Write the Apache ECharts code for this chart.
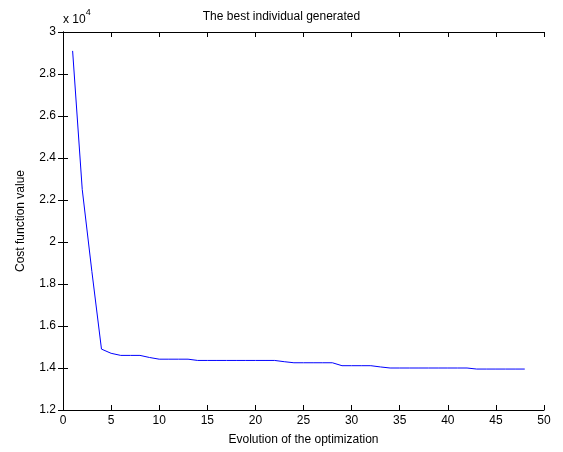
<!DOCTYPE html>
<html>
<head>
<meta charset="utf-8">
<script src="https://cdn.jsdelivr.net/npm/echarts@6/dist/echarts.min.js"></script>
<style>html,body{margin:0;padding:0;background:#fff;}#c{width:563px;height:452px;}</style>
</head>
<body>
<div id="c"></div>
<script>
// Generation index (x) and best cost value (y, raw units)
const generations = [1,2,3,4,5,6,7,8,9,10,11,12,13,14,15,16,17,18,19,20,21,22,23,24,25,26,27,28,29,30,31,32,33,34,35,36,37,38,39,40,41,42,43,44,45,46,47,48];
const bestCost = [29100,22500,18600,14900,14700,14600,14600,14600,14500,14420,14420,14420,14420,14360,14360,14360,14360,14360,14360,14360,14360,14360,14300,14250,14250,14250,14250,14250,14110,14110,14110,14110,14050,14000,14000,14000,14000,14000,14000,14000,14000,14000,13950,13950,13950,13950,13950,13950];
const xTicks = {min: 0, max: 50, interval: 5};
const yTicks = {min: 12000, max: 30000, interval: 2000};
const titleText = 'The best individual generated';
const xName = 'Evolution of the optimization';
const yName = 'Cost function value';

const font = 'Liberation Sans, Arial, sans-serif';
const chart = echarts.init(document.getElementById('c'), null, {renderer: 'canvas'});
const axisBase = {
  axisLine: {show: true, lineStyle: {color: '#000', width: 1}},
  axisTick: {show: true, inside: true, length: 5, lineStyle: {color: '#000'}},
  splitLine: {show: false}
};
chart.setOption({
  animation: false,
  backgroundColor: '#fff',
  title: {text: titleText, left: 'center', top: 6, textStyle: {fontFamily: font, fontSize: 12, fontWeight: 'normal', color: '#000'}},
  grid: {left: 63, right: 19, top: 32, bottom: 42, containLabel: false},
  xAxis: [
    Object.assign({type: 'value', position: 'bottom', min: xTicks.min, max: xTicks.max, interval: xTicks.interval,
      name: xName, nameLocation: 'middle', nameGap: 24,
      nameTextStyle: {fontFamily: font, fontSize: 12, color: '#000'},
      axisLabel: {fontFamily: font, fontSize: 12, color: '#000', margin: 5}}, axisBase),
    Object.assign({type: 'value', position: 'top', min: xTicks.min, max: xTicks.max, interval: xTicks.interval,
      axisLabel: {show: false}}, axisBase)
  ],
  yAxis: [
    Object.assign({type: 'value', position: 'left', min: yTicks.min, max: yTicks.max, interval: yTicks.interval,
      name: yName, nameLocation: 'middle', nameGap: 36, nameRotate: 90,
      nameTextStyle: {fontFamily: font, fontSize: 12, color: '#000'},
      axisLabel: {fontFamily: font, fontSize: 12, color: '#000', margin: 7,
        formatter: v => String(parseFloat((v / 10000).toFixed(1)))}}, axisBase),
    Object.assign({type: 'value', position: 'right', min: yTicks.min, max: yTicks.max, interval: yTicks.interval,
      axisLabel: {show: false}}, axisBase)
  ],
  graphic: [{
    type: 'text', left: 63, top: 8,
    style: {
      text: '{a|x 10}{b|4}',
      rich: {
        a: {fontFamily: font, fontSize: 12, fill: '#000', verticalAlign: 'bottom', padding: [6, 0, 0, 0]},
        b: {fontFamily: font, fontSize: 9, fill: '#000', verticalAlign: 'top'}
      }
    }
  }],
  series: [{
    type: 'line',
    data: generations.map((g, i) => [g, bestCost[i]]),
    showSymbol: false,
    lineStyle: {color: '#0000ff', width: 1},
    itemStyle: {color: '#0000ff'}
  }]
});
</script>
</body>
</html>
